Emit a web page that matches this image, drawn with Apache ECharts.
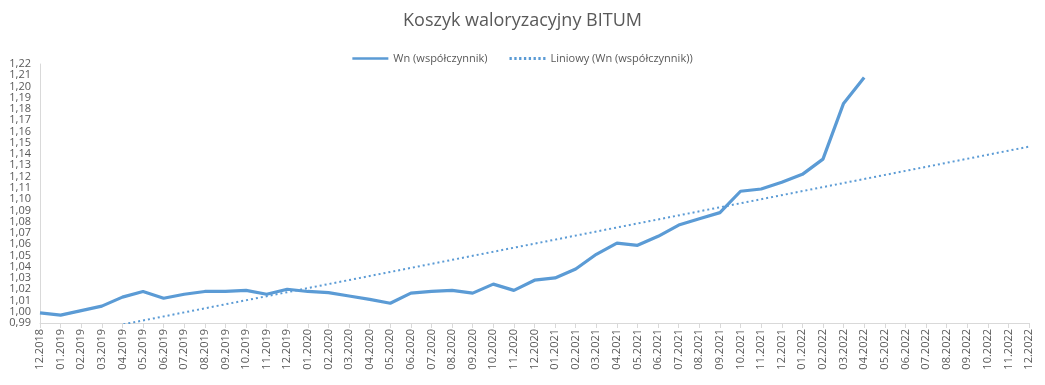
<!DOCTYPE html>
<html>
<head>
<meta charset="utf-8">
<script src="https://cdn.jsdelivr.net/npm/echarts@6/dist/echarts.min.js"></script>
<style>html,body{margin:0;padding:0;background:#fff;}#c{width:1045px;height:385px;}</style>
</head>
<body>
<div id="c"></div>
<script>
var categories = ["12.2018","01.2019","02.2019","03.2019","04.2019","05.2019","06.2019","07.2019","08.2019","09.2019","10.2019","11.2019","12.2019","01.2020","02.2020","03.2020","04.2020","05.2020","06.2020","07.2020","08.2020","09.2020","10.2020","11.2020","12.2020","01.2021","02.2021","03.2021","04.2021","05.2021","06.2021","07.2021","08.2021","09.2021","10.2021","11.2021","12.2021","01.2022","02.2022","03.2022","04.2022","05.2022","06.2022","07.2022","08.2022","09.2022","10.2022","11.2022","12.2022"];
var wnValues = [0.999,0.997,1.001,1.005,1.013,1.018,1.012,1.0155,1.018,1.018,1.019,1.0155,1.020,1.018,1.017,1.014,1.011,1.0075,1.0165,1.018,1.019,1.0165,1.0245,1.019,1.028,1.030,1.038,1.051,1.061,1.059,1.067,1.077,1.0825,1.088,1.107,1.109,1.115,1.122,1.1355,1.185,1.208];
// trendline endpoints (at 12.2018 and 12.2022)
var trendStart = 0.9743;
var trendEnd = 1.1466;
var yTicks = {min: 0.99, max: 1.22, interval: 0.01};

var trendData = categories.map(function(c, i){
  if (i === 0) return trendStart;
  if (i === categories.length - 1) return trendEnd;
  return null;
});

var color = '#5B9BD5';
var txt = '#595959';
var font = 'Open Sans';
var dots = '';
for (var k = 0; k < 8; k++) { var x0 = k * 5; dots += 'M' + x0 + ',0h2.4v3h-2.4z'; }
var chart = echarts.init(document.getElementById('c'));
chart.setOption({
  animation: false,
  title: {
    text: 'Koszyk waloryzacyjny BITUM',
    left: 'center', top: 7,
    textStyle: {fontFamily: font, fontSize: 18, fontWeight: 'normal', color: txt}
  },
  legend: {
    top: 48, left: 'center', itemWidth: 36, itemHeight: 3, itemGap: 22,
    textStyle: {fontFamily: font, fontSize: 11, color: txt},
    data: [
      {name: 'Wn (współczynnik)', icon: 'path://M0,0L40,0L40,3L0,3Z'},
      {name: 'Liniowy (Wn (współczynnik))', icon: 'path://' + dots}
    ]
  },
  grid: {left: 40, right: 16, top: 64, bottom: 62, containLabel: false},
  xAxis: {
    type: 'category', data: categories, boundaryGap: false,
    axisLine: {lineStyle: {color: '#d9d9d9'}},
    axisTick: {show: true, alignWithLabel: true, length: 5, lineStyle: {color: '#d9d9d9'}},
    axisLabel: {rotate: 90, interval: 0, fontFamily: font, fontSize: 11, color: txt, margin: 6},
    splitLine: {show: false}
  },
  yAxis: {
    type: 'value', min: yTicks.min, max: yTicks.max, interval: yTicks.interval,
    axisLine: {show: true, lineStyle: {color: '#d9d9d9'}},
    axisTick: {show: false},
    splitLine: {show: false},
    axisLabel: {
      fontFamily: font, fontSize: 11, color: txt, margin: 9,
      formatter: function(v){ return v.toFixed(2).replace('.', ','); }
    }
  },
  series: [
    {
      name: 'Wn (współczynnik)', type: 'line', data: wnValues,
      showSymbol: false, symbol: 'none',
      lineStyle: {color: color, width: 3.2}, itemStyle: {color: color}
    },
    {
      name: 'Liniowy (Wn (współczynnik))', type: 'line', data: trendData,
      connectNulls: true, showSymbol: false, symbol: 'none', clip: true,
      lineStyle: {color: color, width: 2, type: [2, 3]}, itemStyle: {color: color}
    }
  ]
});
</script>
</body>
</html>
